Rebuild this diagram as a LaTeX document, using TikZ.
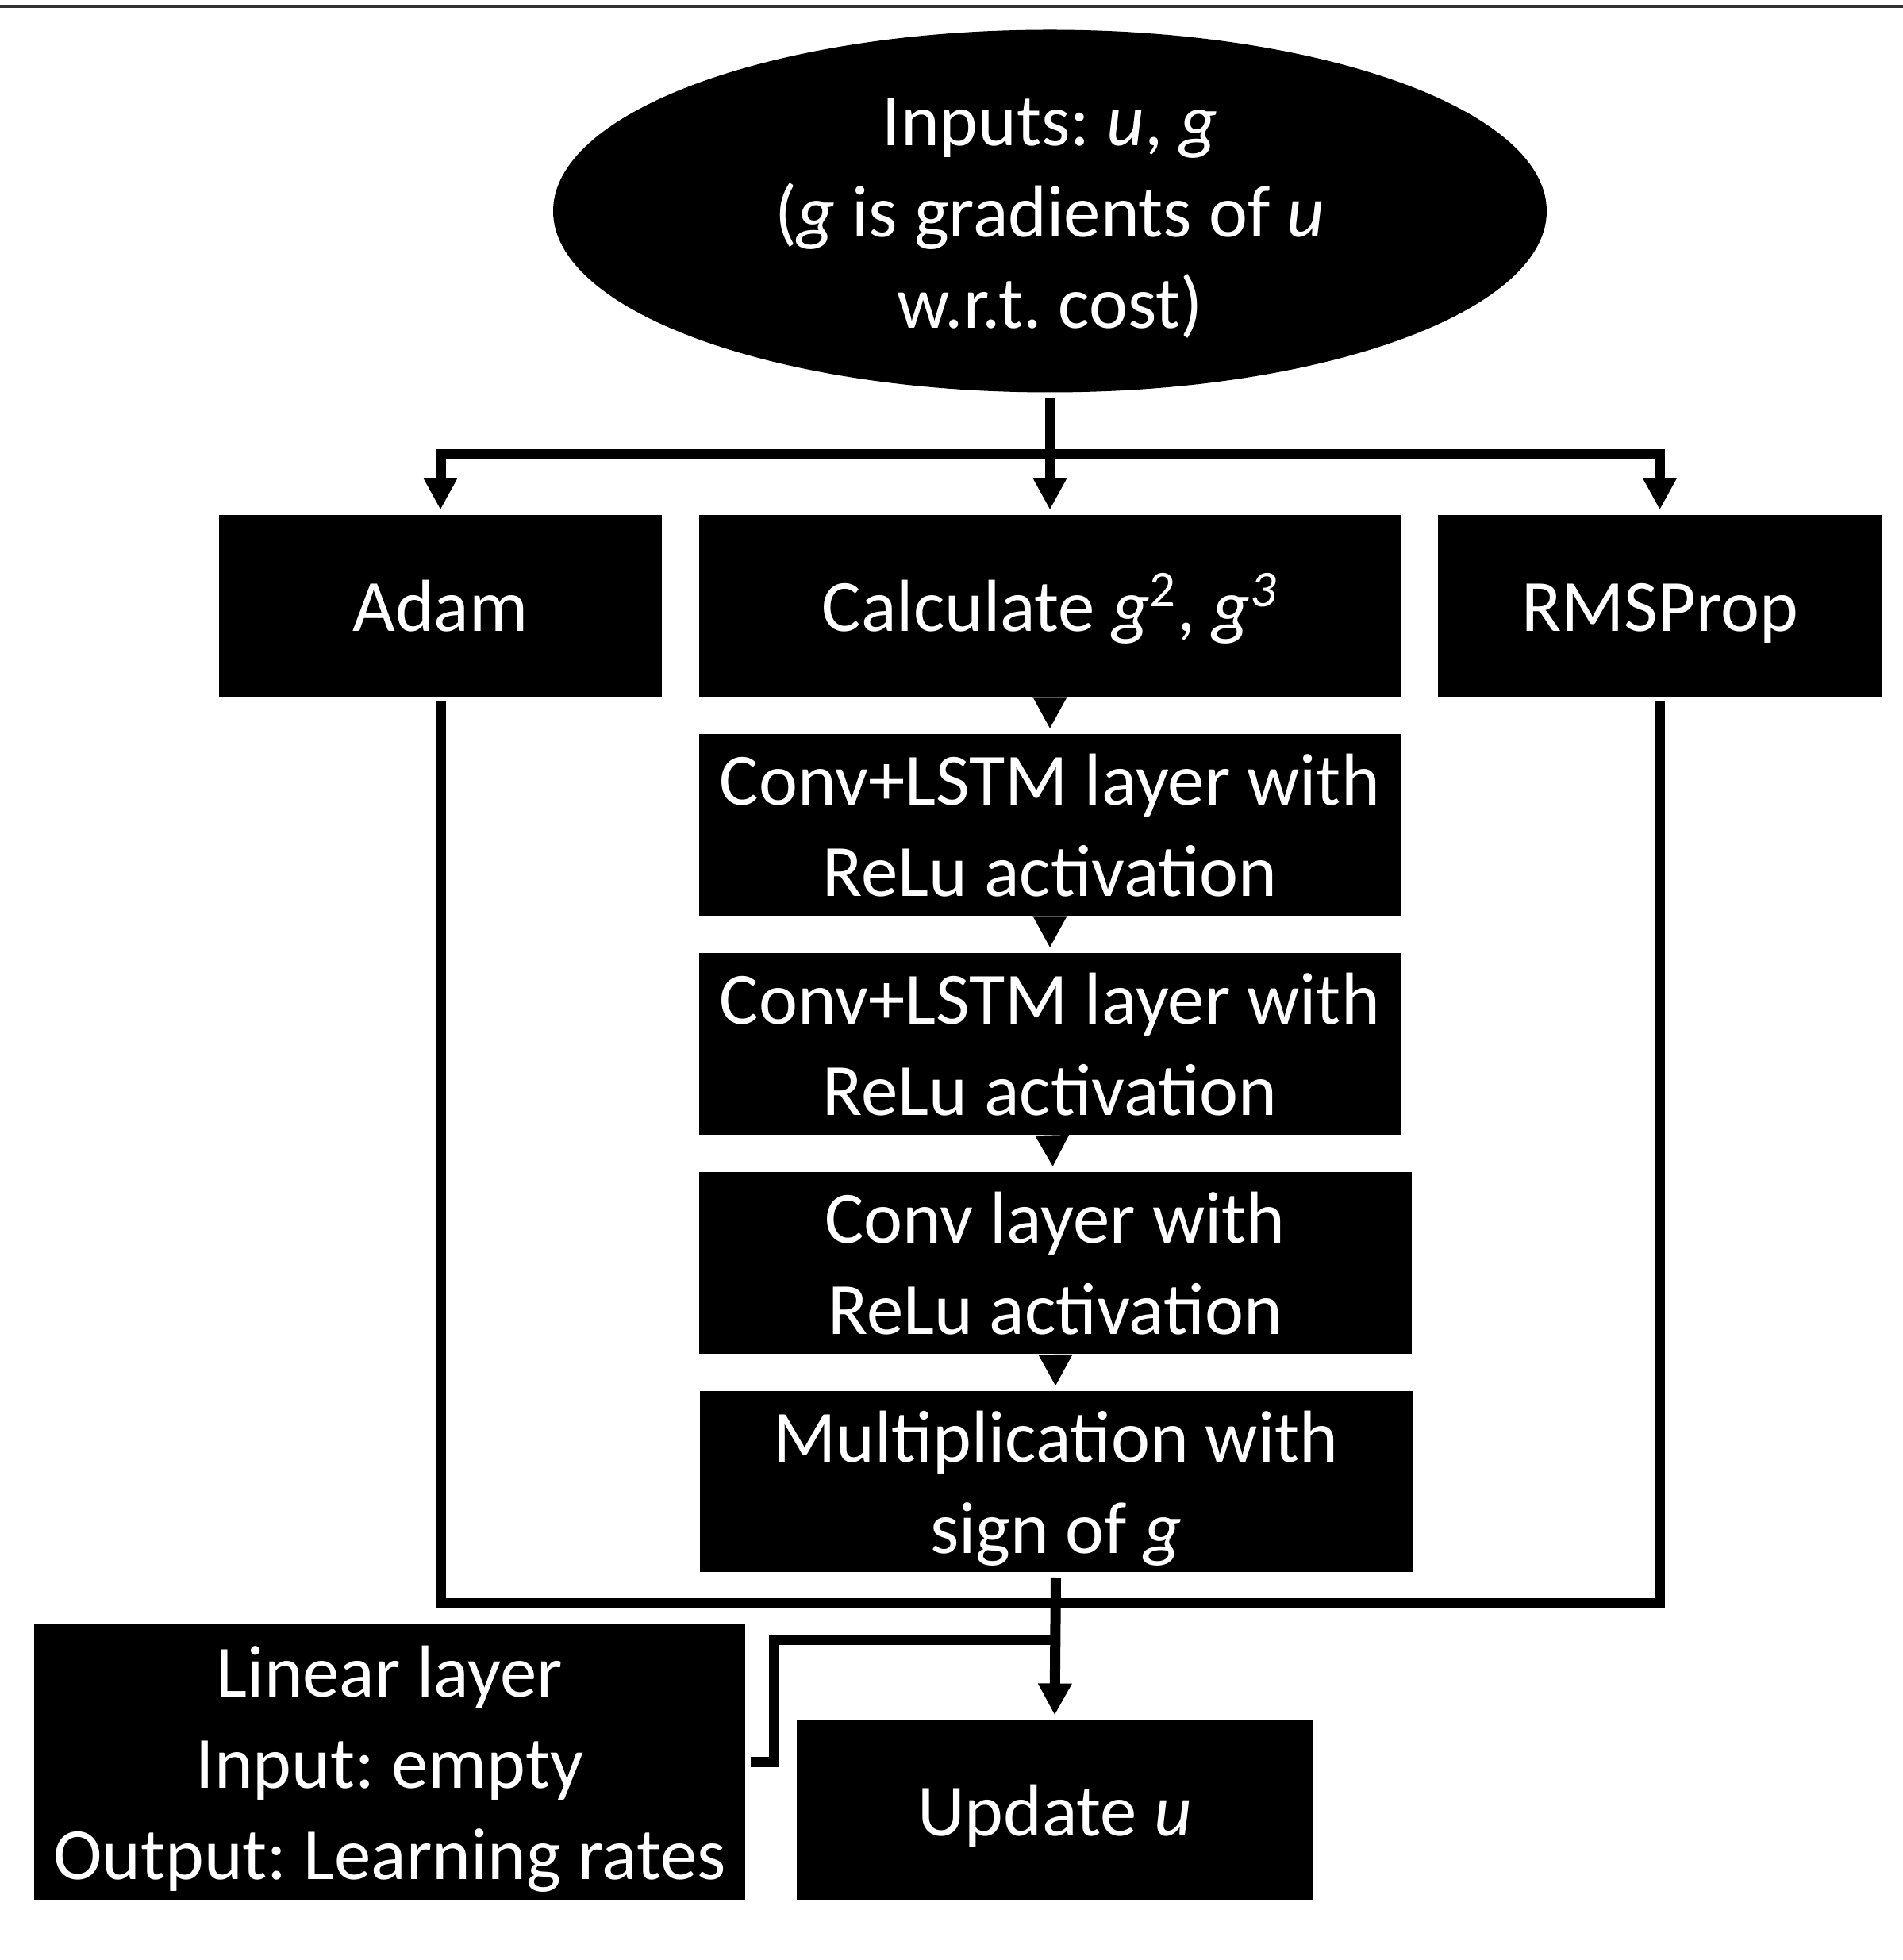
\documentclass[tikz,border=0pt]{standalone}
\usepackage{fontspec}
\setmainfont{Carlito}
\usepackage{tikz}
\usetikzlibrary{arrows.meta,shapes.geometric}
\frenchspacing
\newcommand{\linestrut}{\rule[-0.25em]{0pt}{1.2em}}

\begin{document}
\begin{tikzpicture}[>={Triangle[length=0.4cm,width=0.4cm]},line width=0.13cm,node distance=2.76cm,
	block/.style={rectangle,fill=black,text=white,inner sep=0pt,align=center,minimum height=2.29cm,
		font=\fontsize{26.4}{32.6}\selectfont,execute at begin node=\linestrut,execute at end node=\linestrut},
	oval/.style={block,ellipse,inner sep=-0.15cm,minimum width=12.52cm,minimum height=4.57cm}]
	\useasboundingbox (0,0) rectangle (23.98,24.70);
	\draw[line width=0.04cm,black!80] (0,24.62) -- (23.98,24.62);

	\node[oval]                       (INPUTS) at (13.23,22.04)  {\linestrut Inputs: \textit{u}, \textit{g}\\(\textit{g} is gradients of \textit{u}\\w.r.t. cost)};
	\node[block,minimum width=5.58cm] (ADAM)   at (5.55,17.065)  {Adam};
	\node[block,minimum width=8.85cm] (CALC)   at (13.23,17.065) {Calculate \textit{g}\textsuperscript{2}, \textit{g\textsuperscript{3}}};
	\node[block,minimum width=5.59cm] (RMS)    at (20.915,17.065) {RMSProp};
	\node[block,minimum width=8.85cm] (CONV1)  [below of=CALC]  {\linestrut Conv+LSTM layer with\\ReLu activation};
	\node[block,minimum width=8.85cm] (CONV2)  [below of=CONV1] {\linestrut Conv+LSTM layer with\\ReLu activation};
	\node[block,minimum width=8.98cm] (CONV)   [below of=CONV2, xshift=0.065cm] {\linestrut Conv layer with\\ReLu activation};
	\node[block,minimum width=8.98cm,minimum height=2.28cm] (MULT) [below of=CONV, xshift=0.01cm] {\linestrut Multiplication with\\sign of \textit{g}};
	\node[block,minimum width=8.96cm,minimum height=3.48cm] (LINEAR) at (4.91,2.49)  {\linestrut Linear layer\\Input: empty\\Output: Learning rates};
	\node[block,minimum width=6.50cm,minimum height=2.27cm] (UPDATE) at (13.29,1.885) {Update \textit{u}};

	\path (INPUTS.south) ++(0,-0.72) coordinate (SPLIT);
	\path (MULT.south) ++(0,-0.33) coordinate (JOIN);
	\path (JOIN) ++(0,-0.46) coordinate (TAP);

	\draw[->] (INPUTS.south) -- (CALC.north);
	\draw[->] (SPLIT) -| (ADAM.north);
	\draw[->] (SPLIT) -| (RMS.north);
	\path[->] (CALC)  edge (CONV1)
	          (CONV1) edge (CONV2)
	          (CONV2) edge (CONV)
	          (CONV)  edge (MULT);
	\draw (ADAM.south) -- (ADAM.south |- JOIN) -- (RMS.south |- JOIN) -- (RMS.south);
	\draw[->] (MULT.south) -- (UPDATE.north);
	\draw (LINEAR.east) -- ++(0.3,0) |- (TAP);
\end{tikzpicture}
\end{document}
